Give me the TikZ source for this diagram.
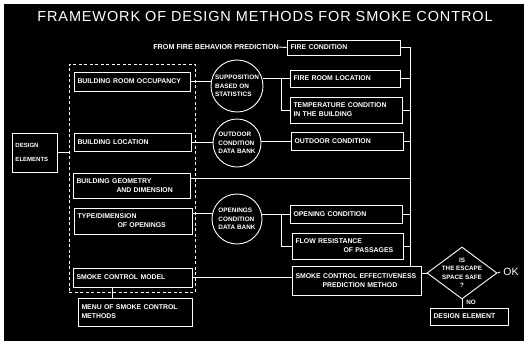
\documentclass[tikz,border=0pt]{standalone}
\usepackage{fontspec}
\setmainfont{Liberation Sans}
\newfontfamily\ttlfont{Liberation Sans}[LetterSpace=6]
\usetikzlibrary{shapes.geometric}
\begin{document}
\begin{tikzpicture}[x=1pt,y=-1pt,
  bx/.style={draw=white, line width=0.9pt, text=white, font=\fontsize{6.9}{9}\selectfont\bfseries, align=left, inner xsep=3.5pt, inner ysep=0pt},
  circ/.style={circle, draw=white, line width=0.9pt, text=white, font=\fontsize{6.4}{8.5}\selectfont\bfseries, align=left, inner sep=0pt},
  ln/.style={draw=white, line width=0.9pt},
  lbl/.style={text=white, inner sep=0pt}]
\useasboundingbox (0,0) rectangle (524,346);
\fill[black] (4,4) rectangle (524,341);

\node[lbl, font=\ttlfont\fontsize{14.5}{15}\selectfont] (title) at (265,17) {FRAMEWORK OF DESIGN METHODS FOR SMOKE CONTROL};

\node[lbl, font=\fontsize{7.2}{8}\selectfont\bfseries, anchor=east] (from) at (279,47) {FROM FIRE BEHAVIOR PREDICTION};
\node[bx, text width=106pt, minimum height=15pt] (firecond) at (343.5,47.5) {FIRE CONDITION};

\node[draw=white, line width=0.9pt, dash pattern=on 3pt off 2.5pt, minimum width=126pt, minimum height=228pt, inner sep=0pt] (grp) at (132,178) {};

\node[bx, text width=109pt, minimum height=19pt] (occ) at (132,81.5) {BUILDING$\cdot$ROOM OCCUPANCY};
\node[bx, text width=110pt, minimum height=18pt] (loc) at (132.5,142) {BUILDING LOCATION};
\node[bx, text width=110pt, minimum height=25pt] (geom) at (131.5,185.5) {BUILDING GEOMETRY\\\hspace*{40pt}AND DIMENSION};
\node[bx, text width=111pt, minimum height=26pt] (types) at (133,221) {TYPE/DIMENSION\\\hspace*{40pt}OF OPENINGS};
\node[bx, text width=112pt, minimum height=19pt] (model) at (132.5,277.5) {SMOKE CONTROL MODEL};
\node[bx, text width=107pt, minimum height=28pt] (menu) at (135,312) {MENU OF SMOKE CONTROL\\METHODS};
\node[bx, text width=38pt, minimum height=39pt, font=\fontsize{6}{14}\selectfont\bfseries] (design) at (34.5,152.5) {DESIGN\\ELEMENTS};

\node[circ, minimum size=52pt] (sup) at (237,86) {SUPPOSITION\\BASED ON\\STATISTICS};
\node[circ, minimum size=48pt] (out) at (237,143) {OUTDOOR\\CONDITION\\DATA BANK};
\node[circ, minimum size=50pt] (open) at (237,219) {OPENINGS\\CONDITION\\DATA BANK};

\node[bx, text width=103pt, minimum height=17pt] (fireroom) at (345,78.5) {FIRE ROOM LOCATION};
\node[bx, text width=105pt, minimum height=26pt] (temp) at (346,110) {TEMPERATURE CONDITION\\IN THE BUILDING};
\node[bx, text width=105pt, minimum height=18pt] (outcond) at (347,141) {OUTDOOR CONDITION};
\node[bx, text width=105pt, minimum height=18pt] (opencond) at (346,214) {OPENING CONDITION};
\node[bx, text width=104pt, minimum height=26pt] (flow) at (347.5,246) {FLOW RESISTANCE\\\hspace*{48pt}OF PASSAGES};
\node[bx, text width=122pt, minimum height=29pt] (smokeeff) at (356.5,280.5) {SMOKE CONTROL EFFECTIVENESS\\\hspace*{27pt}PREDICTION METHOD};

\node[diamond, draw=white, line width=0.9pt, aspect=1.35, minimum width=70pt, minimum height=52pt, inner sep=0pt,
  label={[lbl, align=center, font=\fontsize{6.3}{8.5}\selectfont\bfseries]center:IS\\THE ESCAPE\\SPACE SAFE\\?}] (safe) at (462,273) {};
\node[lbl, font=\fontsize{10.5}{11}\selectfont] (ok) at (511,272) {OK};
\node[lbl, font=\fontsize{6.3}{7}\selectfont\bfseries] (no) at (471,302.5) {NO};
\node[bx, text width=71pt, minimum height=17pt] (designel) at (469,316.5) {DESIGN ELEMENT};

% connectors
\coordinate (busbot) at (410,266);
\draw[ln] (from.east) -- (firecond.west);
\draw[ln] (firecond.east) -| (busbot);
\draw[ln] (fireroom.east) -- (fireroom.east -| busbot);
\draw[ln] (temp.east) -- (temp.east -| busbot);
\draw[ln] (outcond.east) -- (outcond.east -| busbot);
\draw[ln] (opencond.east) -- (opencond.east -| busbot);
\draw[ln] (flow.east) -- (flow.east -| busbot);
\coordinate (geomout) at ([yshift=-6pt]geom.north east);
\draw[ln] (geomout) -- (geomout -| busbot);

\draw[ln] (occ.east) -- (occ.east -| sup.west);
\coordinate (j1) at ([xshift=-8pt]fireroom.west);
\draw[ln] (sup.east |- j1) -- (fireroom.west);
\draw[ln] (j1) |- (temp.west);

\draw[ln] (loc.east) -- (loc.east -| out.west);
\draw[ln] (out.east |- outcond.west) -- (outcond.west);

\coordinate (typesout) at ([yshift=-6pt]types.north east);
\draw[ln] (typesout) -- (typesout -| open.west);
\coordinate (j2) at ([xshift=-8pt]opencond.west);
\draw[ln] (open.east |- j2) -- (opencond.west);
\draw[ln] (j2) |- (flow.west);

\draw[ln] (model.east) -- (model.east -| smokeeff.west);
\draw[ln] (design.east) -- (design.east -| grp.west);
\coordinate (mdl) at ([xshift=-20pt]model.south);
\draw[ln] (mdl) -- (mdl |- menu.north);

\draw[ln] (safe.west -| smokeeff.east) -- (safe.west);
\draw[ln] (safe.east) -- ([xshift=-3pt]ok.west);
\draw[ln] (safe.south) -- (safe.south |- designel.north);
\end{tikzpicture}
\end{document}
